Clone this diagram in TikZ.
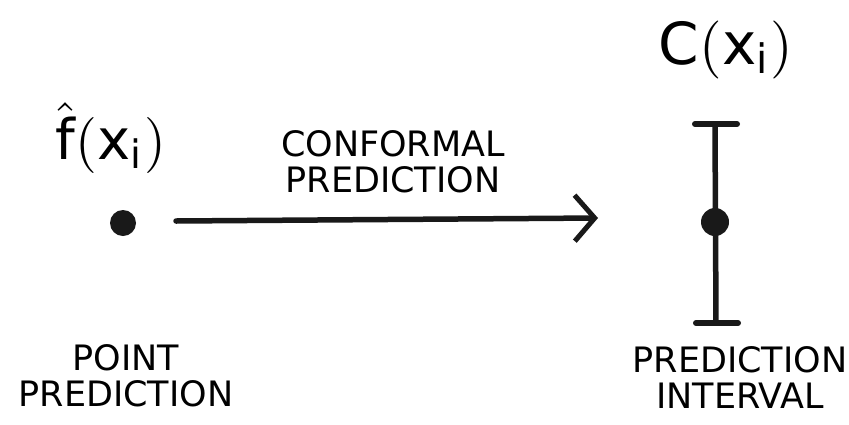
\documentclass[tikz,border=0pt]{standalone}
\usepackage{fontspec}
\setmainfont{DejaVu Sans}
\usetikzlibrary{arrows.meta}
\tikzset{
  ink/.style={line width=5.5pt, line cap=round, draw=black!90},
  dotmark/.style={circle, fill=black!90, inner sep=0pt, minimum size=#1},
  caption/.style={font=\fontsize{35}{36}\selectfont, align=center, inner sep=0pt},
  mathlabel/.style={font=\fontsize{10}{12}\selectfont, inner sep=0pt, scale=#1}
}
\begin{document}
\begin{tikzpicture}[x=1pt,y=-1pt]
  \useasboundingbox (0,0) rectangle (849,424);
  \fill[white] (0,0) rectangle (849,424);

  % point prediction on the left
  \node[mathlabel=5.6] (fhat) at (111,138) {$\hat{\mathrm{f}}(\mathrm{x}_{\mathrm{i}})$};
  \node[dotmark=26pt] (ptdot) at (123,223) {};
  \node[caption] (ptlabel) at (126,376) {POINT\\PREDICTION};

  % conformal prediction arrow
  \coordinate (astart) at (176,221);
  \coordinate (aend) at (598,218);
  \draw[ink, -{Straight Barb[length=20pt, width=46pt, line width=5pt]}] (astart) -- (aend);
  \node[caption] (cplabel) at (393,162) {CONFORMAL\\PREDICTION};

  % prediction interval on the right
  \node[mathlabel=5.8] (cset) at (726,50) {$\mathrm{C}(\mathrm{x}_{\mathrm{i}})$};
  \coordinate (itop) at (715,124);
  \coordinate (ibot) at (716,323);
  \draw[ink] (itop) -- (ibot);
  \draw[ink, line width=6pt] ([xshift=-20pt]itop) -- ([xshift=22pt]itop);
  \draw[ink, line width=6pt] ([xshift=-20pt]ibot) -- ([xshift=22pt]ibot);
  \node[dotmark=28pt] (ivdot) at (715,222) {};
  \node[caption] (ivlabel) at (740,378) {PREDICTION\\INTERVAL};
\end{tikzpicture}
\end{document}
